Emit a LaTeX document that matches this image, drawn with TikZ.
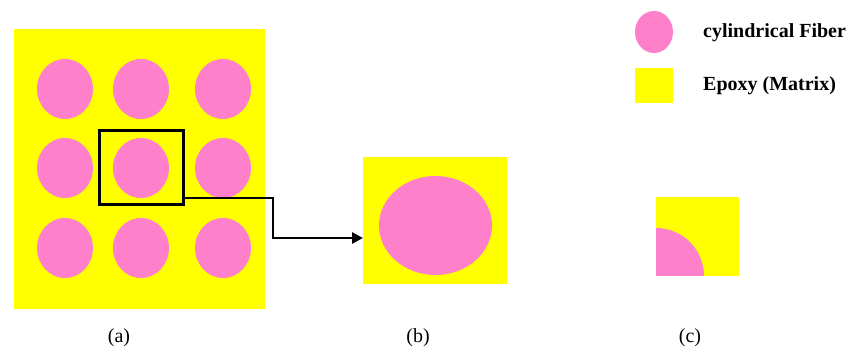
\documentclass[tikz,border=0pt]{standalone}
\usepackage{fontspec}
\setmainfont{Liberation Serif}
\usetikzlibrary{arrows.meta}
\definecolor{epoxy}{RGB}{255,255,0}
\definecolor{fiber}{RGB}{255,128,202}
\tikzset{
  matrixbox/.style={fill=epoxy, draw=none, inner sep=0pt, outer sep=0pt},
  fiberdisc/.style={fill=fiber, draw=none},
  cellframe/.style={draw=black, line width=3pt, inner sep=0pt, minimum width=84pt, minimum height=74pt},
  linkarrow/.style={draw=black, line width=2.6pt, -{Triangle[length=11pt,width=11pt]}},
  legendtext/.style={anchor=base west, inner sep=0pt, font=\fontsize{20}{24}\selectfont\bfseries},
  caption/.style={anchor=base, inner sep=0pt, font=\fontsize{20}{24}\selectfont}
}
\begin{document}
\begin{tikzpicture}[x=1pt,y=-1pt]
\useasboundingbox (0,0) rectangle (849,352);

% (a) composite with a 3x3 array of fibres
\node[matrixbox, minimum width=251pt, minimum height=280pt] (panela) at (139.5,169) {};
\foreach \cx in {65,141,223}
  \foreach \cy in {89,168,248}
    \fill[fiberdisc] (\cx,\cy) ellipse [x radius=28, y radius=30];
\node[cellframe] (cell) at (141,168) {};

% (b) representative unit cell
\node[matrixbox, minimum width=144pt, minimum height=127pt] (unitb) at (435,220.5) {};
\fill[fiberdisc] (435.5,225.5) ellipse [x radius=56.5, y radius=49.5];

% (c) quarter-symmetric cell: quarter fibre in the lower left corner
\node[matrixbox, minimum width=83pt, minimum height=79pt] (unitc) at (697.5,236.5) {};
\fill[fiberdisc] (unitc.south west) -- ++(48,0) arc [start angle=0, end angle=-90, radius=48] -- cycle;

% link from the framed cell to (b)
\coordinate (start) at (183,198);
\coordinate (bend) at (273,238);
\draw[linkarrow] (start) -| (bend) -- (unitb.west |- bend);

% legend
\fill[fiberdisc] (654,32) ellipse [x radius=19, y radius=21];
\node[matrixbox, minimum width=38pt, minimum height=35pt] (legsq) at (654,85.5) {};
\node[legendtext] (legf) at (703,38) {cylindrical Fiber};
\node[legendtext] (lege) at (703,91) {Epoxy (Matrix)};

% captions
\node[caption] (capa) at (119,343) {(a)};
\node[caption] (capb) at (418,343) {(b)};
\node[caption] (capc) at (690,343) {(c)};
\end{tikzpicture}
\end{document}
